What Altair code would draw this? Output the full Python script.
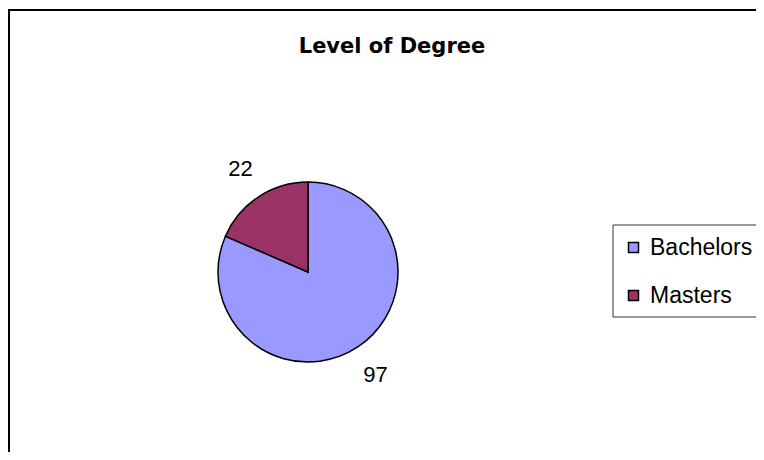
import altair as alt
import pandas as pd

categories = ["Bachelors", "Masters"]
counts = [97, 22]
colors = ["#9999FF", "#993366"]
title_text = "Level of Degree"

df = pd.DataFrame({"degree": categories, "count": counts, "order": list(range(len(categories)))})

CX, CY = 300, 264

base = alt.Chart(df)

pie = base.mark_arc(outerRadius=90, stroke="#000000", strokeWidth=1.5).encode(
    theta=alt.Theta("count:Q", stack=True),
    order=alt.Order("order:Q"),
    color=alt.Color(
        "degree:N",
        scale=alt.Scale(domain=categories, range=colors),
        legend=alt.Legend(
            title=None,
            orient="none",
            legendX=605,
            legendY=219,
            padding=9,
            rowPadding=24,
            symbolType="square",
            symbolSize=100,
            symbolStrokeColor="#000000",
            symbolStrokeWidth=1.5,
            symbolOffset=0,
            labelFont="Liberation Sans",
            labelFontSize=23,
            labelColor="#000000",
            labelOffset=5,
            labelLimit=140,
        ),
    ),
    x=alt.value(CX),
    y=alt.value(CY),
)

labels = base.mark_text(
    radius=123, font="Liberation Sans", fontSize=22, color="#000000",
    align="center", baseline="middle"
).encode(
    theta=alt.Theta("count:Q", stack=True),
    order=alt.Order("order:Q"),
    text=alt.Text("count:Q"),
    x=alt.value(CX),
    y=alt.value(CY),
)

title = alt.Chart(pd.DataFrame({"t": [title_text]})).mark_text(
    font="DejaVu Sans", fontSize=21, fontWeight="bold", color="#000000",
    align="center", baseline="alphabetic"
).encode(
    text="t:N",
    x=alt.value(384),
    y=alt.value(45),
)

frame = alt.Chart(pd.DataFrame({"b": [0]}))
border_left = frame.mark_rule(color="#000000", strokeWidth=2).encode(
    x=alt.value(1), y=alt.value(2), y2=alt.value(444)
)
border_top = frame.mark_rule(color="#000000", strokeWidth=2).encode(
    x=alt.value(0), x2=alt.value(748), y=alt.value(2)
)
legend_box = frame.mark_rect(fillOpacity=0, stroke="#333333", strokeWidth=1).encode(
    x=alt.value(605), x2=alt.value(900), y=alt.value(217), y2=alt.value(309)
)

chart = alt.layer(border_left, border_top, legend_box, pie, labels, title).properties(
    width=748, height=444, autosize=alt.AutoSizeParams(type="none"), padding=0,
    background="#FFFFFF"
).configure_view(stroke=None)

chart.save("out.html", embed_options={"renderer": "svg", "actions": False})
